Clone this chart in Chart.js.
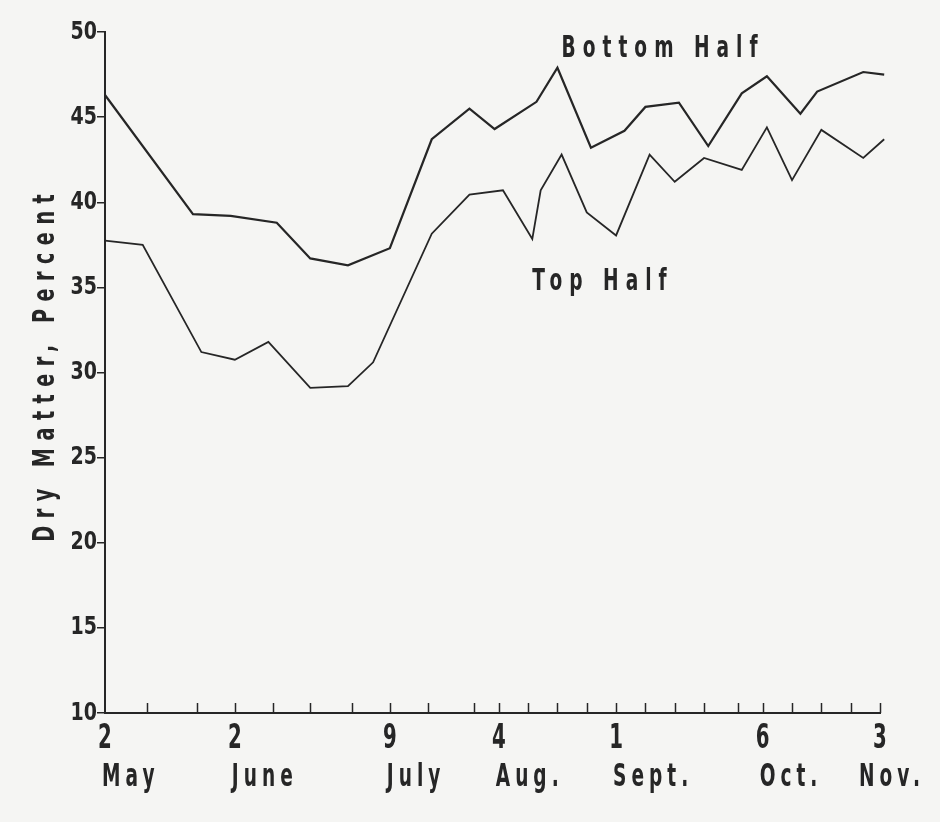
<!DOCTYPE html>
<html>
<head>
<meta charset="utf-8">
<script src="https://cdn.jsdelivr.net/npm/chart.js@4.4.1/dist/chart.umd.min.js"></script>
<style>
html,body{margin:0;padding:0;background:#f5f5f3;}
#wrap{width:940px;height:822px;}
</style>
</head>
<body>
<div id="wrap"><canvas id="c" width="940" height="822"></canvas></div>
<script>
// Days counted from 2 May
const bottomHalfDays = [0, 21, 30, 41, 49, 58, 68, 78, 87, 93, 103, 108, 116, 124, 129, 137, 144, 152, 158, 166, 170, 181, 186];
const bottomHalfValues = [46.3, 39.3, 39.2, 38.8, 36.7, 36.3, 37.3, 43.7, 45.5, 44.3, 45.9, 47.9, 43.2, 44.2, 45.6, 45.85, 43.3, 46.4, 47.4, 45.2, 46.5, 47.65, 47.5];
const topHalfDays = [0, 9, 23, 31, 39, 49, 58, 64, 78, 87, 95, 102, 104, 109, 115, 122, 130, 136, 143, 152, 158, 164, 171, 181, 186];
const topHalfValues = [37.75, 37.5, 31.2, 30.75, 31.8, 29.1, 29.2, 30.6, 38.15, 40.45, 40.7, 37.85, 40.7, 42.8, 39.4, 38.05, 42.8, 41.2, 42.6, 41.9, 44.4, 41.3, 44.25, 42.6, 43.7];
const minorTickDays = [10, 22, 31, 40, 49, 59, 68, 77, 88, 94, 101, 108, 115, 122, 129, 136, 143, 151, 157, 164, 171, 178, 185];
const dateLabelDays = [0, 31, 68, 94, 122, 157, 185];
const dateLabelNumbers = ["2", "2", "9", "4", "1", "6", "3"];
const dateLabelMonths = ["May", "June", "July", "Aug.", "Sept.", "Oct.", "Nov."];
const yTickValues = [10, 15, 20, 25, 30, 35, 40, 45, 50];
const yTickLabels = ["10", "15", "20", "25", "30", "35", "40", "45", "50"];
const seriesNames = ["Bottom Half", "Top Half"];
const seriesLabelAt = [[109, 49.0], [102, 35.3]];
const yTitle = "Dry Matter, Percent";

const INK = '#262626';
const FONT = '"DejaVu Sans", "Noto Sans", sans-serif';

const toPts = (xs, ys) => xs.map((x, i) => ({x: x, y: ys[i]}));

// width of horizontally-compressed text
function narrowWidth(ctx, text, size, sx, spacing) {
  ctx.save();
  ctx.font = 'bold ' + size + 'px ' + FONT;
  ctx.letterSpacing = '0px';
  const w = ctx.measureText(text).width * sx + spacing * (text.length - 1);
  ctx.restore();
  return w;
}
// draw horizontally-compressed text
function narrowText(ctx, text, x, y, size, sx, spacing, align, baseline) {
  const w = narrowWidth(ctx, text, size, sx, spacing);
  ctx.save();
  ctx.translate(x, y);
  ctx.scale(sx, 1);
  ctx.font = 'bold ' + size + 'px ' + FONT;
  ctx.letterSpacing = (spacing / sx) + 'px';
  ctx.textBaseline = baseline || 'alphabetic';
  ctx.textAlign = 'left';
  let off = 0;
  if (align === 'center') off = -w / 2;
  else if (align === 'right') off = -w;
  ctx.fillText(text, off / sx, 0);
  ctx.restore();
  return w;
}

const decor = {
  id: 'decor',
  beforeDraw(chart) {
    const ctx = chart.ctx;
    ctx.save();
    ctx.fillStyle = '#f5f5f3';
    ctx.fillRect(0, 0, chart.width, chart.height);
    ctx.restore();
  },
  afterDraw(chart) {
    const ctx = chart.ctx;
    const xs = chart.scales.x, ys = chart.scales.y;
    const bottom = chart.chartArea.bottom;
    const left = chart.chartArea.left;
    ctx.save();
    // minor ticks pointing upward
    ctx.strokeStyle = INK;
    ctx.lineWidth = 1.5;
    minorTickDays.forEach(d => {
      const px = Math.round(xs.getPixelForValue(d)) + 0.5;
      ctx.beginPath();
      ctx.moveTo(px, bottom);
      ctx.lineTo(px, bottom - 10);
      ctx.stroke();
    });
    ctx.fillStyle = INK;
    // y tick labels
    yTickValues.forEach((v, i) => {
      narrowText(ctx, yTickLabels[i], left - 8, ys.getPixelForValue(v), 25, 0.76, 0, 'right', 'middle');
    });
    // date labels
    dateLabelDays.forEach((d, i) => {
      const px = xs.getPixelForValue(d);
      narrowText(ctx, dateLabelNumbers[i], px, bottom + 35, 33, 0.6, 0, 'center');
      const w = narrowWidth(ctx, dateLabelMonths[i], 32, 0.58, 5);
      let sx = px - 3;
      if (sx + w > chart.width - 20) sx = chart.width - 20 - w;
      narrowText(ctx, dateLabelMonths[i], sx, bottom + 73, 32, 0.58, 5, 'left');
    });
    // series labels
    seriesNames.forEach((n, i) => {
      narrowText(ctx, n, xs.getPixelForValue(seriesLabelAt[i][0]), ys.getPixelForValue(seriesLabelAt[i][1]), 31, 0.6, 7, 'left', 'middle');
    });
    // y axis title
    ctx.translate(46, 368);
    ctx.rotate(-Math.PI / 2);
    narrowText(ctx, yTitle, 0, 0, 30, 0.64, 7.5, 'center', 'middle');
    ctx.restore();
  }
};

new Chart(document.getElementById('c'), {
  type: 'line',
  data: {
    datasets: [
      {label: seriesNames[0], data: toPts(bottomHalfDays, bottomHalfValues), borderColor: INK, borderWidth: 2.2, pointRadius: 0, tension: 0, fill: false, clip: false},
      {label: seriesNames[1], data: toPts(topHalfDays, topHalfValues), borderColor: INK, borderWidth: 1.8, pointRadius: 0, tension: 0, fill: false, clip: false}
    ]
  },
  options: {
    responsive: false,
    animation: false,
    devicePixelRatio: 1,
    layout: {padding: {left: 0, top: 32, right: 60, bottom: 0}},
    plugins: {legend: {display: false}, tooltip: {enabled: false}},
    scales: {
      x: {
        type: 'linear', min: 0, max: 185,
        ticks: {display: false},
        grid: {display: false},
        border: {display: true, color: INK, width: 2},
        afterFit: s => { s.height = 822 - 713; }
      },
      y: {
        type: 'linear', min: 10, max: 50,
        afterBuildTicks: s => { s.ticks = yTickValues.map(v => ({value: v})); },
        ticks: {display: false},
        grid: {drawOnChartArea: false, color: INK, tickLength: 8, lineWidth: 1.5},
        border: {display: true, color: INK, width: 2},
        afterFit: s => { s.width = 105; }
      }
    }
  },
  plugins: [decor]
});
</script>
</body>
</html>
